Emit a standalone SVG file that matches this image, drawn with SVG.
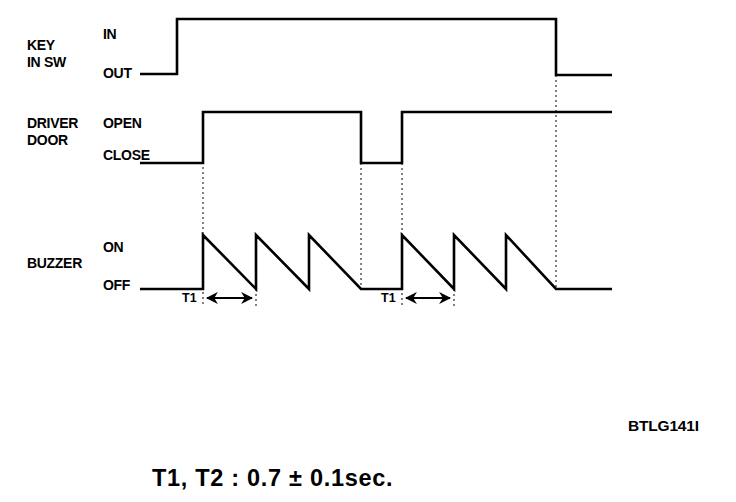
<svg xmlns="http://www.w3.org/2000/svg" width="736" height="502" viewBox="0 0 736 502">
<defs>
<style>
.lbl{font-family:"Liberation Sans",Arial,sans-serif;font-weight:bold;font-size:14px;fill:#000;letter-spacing:-0.3px}
.sig{fill:none;stroke:#000;stroke-width:2.6;stroke-linejoin:miter}
.dot{fill:none;stroke:#000;stroke-width:1;stroke-dasharray:2 3}
.arr{fill:none;stroke:#000;stroke-width:2.2}
.t1{font-family:"Liberation Sans",Arial,sans-serif;font-weight:bold;font-size:12.5px;fill:#000}
</style>
<marker id="ah" viewBox="0 0 10 10" refX="9" refY="5" markerWidth="5.5" markerHeight="5.5" orient="auto-start-reverse" markerUnits="strokeWidth">
<path d="M0,0 L10,5 L0,10 L3,5 Z" fill="#000"/>
</marker>
</defs>
<rect width="736" height="502" fill="#fff"/>

<g id="key-in-sw">
<text class="lbl" x="27" y="50">KEY</text>
<text class="lbl" x="27" y="67">IN SW</text>
<text class="lbl" x="103" y="39">IN</text>
<text class="lbl" x="103" y="78">OUT</text>
<path class="sig" d="M140,74 H177 V19 H556 V75 H612"/>
</g>

<g id="driver-door">
<text class="lbl" x="27" y="128">DRIVER</text>
<text class="lbl" x="27" y="145">DOOR</text>
<text class="lbl" x="103" y="128">OPEN</text>
<text class="lbl" x="103" y="160">CLOSE</text>
<path class="sig" d="M140,163 H203 V112 H361 V163 H402 V112 H612"/>
</g>

<g id="buzzer">
<text class="lbl" x="27" y="268">BUZZER</text>
<text class="lbl" x="103" y="252">ON</text>
<text class="lbl" x="103" y="290">OFF</text>
<path class="sig" d="M140,289 H203 V235 L256,289 V235 L309,289 V235 L361,289 H402 V235 L454,289 V235 L506,289 V235 L556,289 H612"/>
</g>

<g id="connectors">
<path class="dot" d="M203,112 V307"/>
<path class="dot" d="M256,289 V307"/>
<path class="dot" d="M361,163 V289"/>
<path class="dot" d="M402,163 V307"/>
<path class="dot" d="M454,289 V307"/>
<path class="dot" d="M556,75 V289"/>
<line class="arr" x1="207" y1="298" x2="252" y2="298" marker-start="url(#ah)" marker-end="url(#ah)"/>
<line class="arr" x1="406" y1="298" x2="450" y2="298" marker-start="url(#ah)" marker-end="url(#ah)"/>
</g>

<g id="timing-labels">
<text class="t1" x="182" y="302">T1</text>
<text class="t1" x="381" y="302">T1</text>
</g>

<text x="628" y="431" font-family="Liberation Sans, Arial, sans-serif" font-weight="bold" font-size="15.5" letter-spacing="-0.2">BTLG141I</text>
<text x="152" y="486" font-family="Liberation Sans, Arial, sans-serif" font-weight="bold" font-size="23.5" letter-spacing="0.7">T1, T2 : 0.7 ± 0.1sec.</text>
</svg>
